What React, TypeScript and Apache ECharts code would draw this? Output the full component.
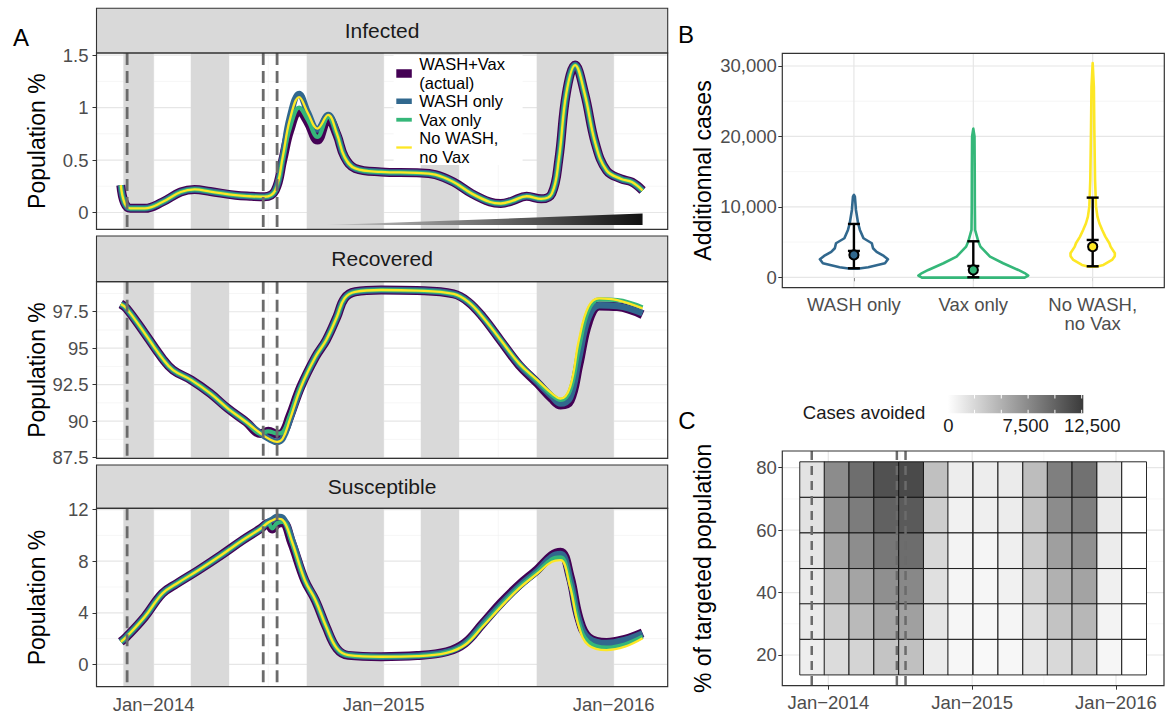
import React, { useEffect, useRef } from 'react';
import * as echarts from 'echarts';

const D = (s: string): number => Date.UTC(+s.slice(0, 4), +s.slice(5, 7) - 1, +s.slice(8, 10));
const DAY = 86400000;

const FONT = "'Liberation Sans', Arial, Helvetica, sans-serif";
const TICK_FONT = 18.5;
const TICK_COLOR = '#4d4d4d';

// ---------- scenarios ----------
const SCEN_NAMES = ['WASH+Vax\n(actual)', 'WASH only', 'Vax only', 'No WASH,\nno Vax'];
const SCEN_COLORS = ['#440154', '#31688E', '#35B779', '#FDE725'];
const SCEN_WIDTHS = [9, 6.5, 4.2, 2.3];

// ---------- time ticks / annotations ----------
const YEAR_TICKS = ['2014-01-01', '2015-01-01', '2016-01-01'];
const YEAR_LABELS = ['Jan\u22122014', 'Jan\u22122015', 'Jan\u22122016'];
const HALF_YEAR_TICKS = ['2014-07-02', '2015-07-02'];
const RAINY_STARTS = ['2013-11-14', '2014-03-01', '2014-09-01', '2015-03-01', '2015-09-01'];
const RAINY_ENDS = ['2014-01-01', '2014-05-01', '2015-01-01', '2015-05-01', '2016-01-01'];
const CAMPAIGN_DATES = ['2013-11-20', '2014-06-24', '2014-07-16'];
const WEDGE_DATES = ['2014-10-01', '2016-02-16', '2016-02-16'];
const WEDGE_VALUES = [-0.12, -0.12, -0.01];

// ---------- Panel A : Infected ----------
const INF_DATES = ['2013-11-10','2013-11-16','2013-11-25','2013-12-18','2014-01-15','2014-02-13','2014-03-07','2014-04-01','2014-05-11','2014-06-03','2014-06-26','2014-07-13','2014-07-25','2014-08-05','2014-08-20','2014-09-03','2014-09-18','2014-10-05','2014-10-19','2014-10-31','2014-11-17','2014-12-28','2015-02-23','2015-03-24','2015-04-22','2015-05-21','2015-06-19','2015-07-06','2015-07-24','2015-08-16','2015-09-08','2015-09-25','2015-10-06','2015-10-18','2015-11-01','2015-11-16','2015-12-03','2015-12-21','2016-01-13','2016-01-30','2016-02-16'];
const INF_NONE = [0.26,0.09,0.04,0.04,0.10,0.195,0.22,0.20,0.165,0.155,0.15,0.21,0.53,0.88,1.10,0.945,0.80,0.93,0.75,0.53,0.42,0.387,0.378,0.36,0.29,0.18,0.10,0.086,0.11,0.155,0.13,0.18,0.50,1.135,1.405,1.135,0.66,0.40,0.32,0.29,0.21];
const INF_ACTUAL = [0.26,0.09,0.04,0.04,0.10,0.195,0.22,0.20,0.165,0.155,0.15,0.21,0.50,0.78,0.97,0.86,0.69,0.90,0.74,0.53,0.42,0.387,0.378,0.36,0.29,0.18,0.10,0.086,0.11,0.155,0.13,0.18,0.50,1.135,1.405,1.135,0.66,0.40,0.32,0.29,0.21];
const INF_WASH = [0.26,0.09,0.04,0.04,0.10,0.195,0.22,0.20,0.165,0.155,0.15,0.21,0.53,0.90,1.13,0.95,0.79,0.93,0.75,0.53,0.42,0.387,0.378,0.36,0.29,0.18,0.10,0.086,0.11,0.155,0.13,0.18,0.50,1.135,1.405,1.135,0.66,0.40,0.32,0.29,0.21];
const INF_VAX = [0.26,0.09,0.04,0.04,0.10,0.195,0.22,0.20,0.165,0.155,0.15,0.21,0.51,0.80,1.00,0.88,0.72,0.91,0.745,0.53,0.42,0.387,0.378,0.36,0.29,0.18,0.10,0.086,0.11,0.155,0.13,0.18,0.50,1.135,1.405,1.135,0.66,0.40,0.32,0.29,0.21];
const INF_TICKS = [0, 0.5, 1, 1.5];
const INF_LABELS = ['0', '0.5', '1', '1.5'];
const INF_MINOR = [0.25, 0.75, 1.25];

// ---------- Panel A : Recovered ----------
const REC_DATES = ['2013-11-10','2013-11-19','2013-12-18','2014-01-15','2014-02-01','2014-03-02','2014-04-01','2014-04-29','2014-05-28','2014-06-20','2014-07-02','2014-07-16','2014-07-25','2014-08-05','2014-08-23','2014-09-15','2014-10-02','2014-10-19','2014-10-31','2014-11-17','2014-12-28','2015-02-23','2015-04-22','2015-05-15','2015-06-07','2015-07-06','2015-08-04','2015-09-02','2015-09-25','2015-10-09','2015-10-24','2015-11-07','2015-11-22','2015-12-09','2016-01-07','2016-02-16'];
const REC_NONE = [98.03,97.73,96.02,94.30,93.5,92.81,91.9,90.86,89.94,89.15,88.81,88.57,88.81,90.06,92.35,94.41,95.56,97.16,98.42,98.87,98.99,98.95,98.72,98.19,97.16,95.56,93.96,92.81,91.9,91.55,92.35,95.56,97.84,98.42,98.3,97.73];
const REC_ACTUAL = [98.03,97.73,96.02,94.30,93.5,92.81,91.9,90.86,89.94,89.15,89.3,89.1,89.2,90.3,92.4,94.41,95.56,97.16,98.42,98.87,98.99,98.95,98.72,98.19,97.16,95.5,93.85,92.6,91.55,91.1,91.4,93.9,96.8,97.9,97.85,97.3];
const REC_WASH = [98.03,97.73,96.02,94.30,93.5,92.81,91.9,90.86,89.94,89.15,88.81,88.57,88.81,90.06,92.35,94.41,95.56,97.16,98.42,98.87,98.99,98.95,98.72,98.19,97.16,95.52,93.9,92.68,91.7,91.2,91.6,94.3,97.1,97.95,97.9,97.4];
const REC_VAX = [98.03,97.73,96.02,94.30,93.5,92.81,91.9,90.86,89.94,89.15,89.3,89.15,89.25,90.35,92.4,94.41,95.56,97.16,98.42,98.87,98.99,98.95,98.72,98.19,97.16,95.56,93.95,92.75,91.8,91.45,92.1,95.0,97.6,98.35,98.3,97.8];
const REC_TICKS = [87.5, 90, 92.5, 95, 97.5];
const REC_LABELS = ['87.5', '90', '92.5', '95', '97.5'];
const REC_MINOR = [88.75, 91.25, 93.75, 96.25, 98.75];

// ---------- Panel A : Susceptible ----------
const SUS_DATES = ['2013-11-10','2013-11-19','2013-12-18','2014-01-15','2014-02-07','2014-03-13','2014-04-18','2014-05-22','2014-06-20','2014-07-02','2014-07-08','2014-07-16','2014-07-25','2014-08-08','2014-08-29','2014-09-15','2014-10-02','2014-10-19','2014-11-06','2014-12-28','2015-02-23','2015-04-11','2015-05-10','2015-06-07','2015-07-06','2015-08-04','2015-09-02','2015-09-25','2015-10-09','2015-10-24','2015-11-07','2015-11-22','2015-12-21','2016-01-19','2016-02-16'];
const SUS_NONE = [1.75,2.14,3.69,5.5,6.27,7.30,8.46,9.62,10.53,11.0,11.15,11.3,11.2,9.62,6.53,4.98,2.92,1.24,0.72,0.59,0.64,0.9,1.5,2.92,4.46,5.89,7.05,7.95,8.08,6.01,2.92,1.5,1.11,1.37,2.02];
const SUS_ACTUAL = [1.75,2.14,3.69,5.5,6.27,7.30,8.46,9.62,10.53,10.95,10.5,10.9,11.0,9.45,6.5,4.95,2.9,1.22,0.7,0.6,0.68,0.98,1.65,3.15,4.75,6.15,7.35,8.45,8.7,6.8,3.6,2.1,1.7,1.95,2.45];
const SUS_WASH = [1.75,2.14,3.69,5.5,6.27,7.30,8.46,9.62,10.53,11.05,11.2,11.45,11.35,9.75,6.55,4.98,2.92,1.24,0.72,0.6,0.67,0.96,1.62,3.1,4.65,6.05,7.25,8.35,8.55,6.6,3.45,2.05,1.65,1.9,2.4];
const SUS_VAX = [1.75,2.14,3.69,5.5,6.27,7.30,8.46,9.62,10.53,10.95,10.55,10.95,11.05,9.5,6.5,4.95,2.9,1.22,0.7,0.59,0.65,0.93,1.55,3.0,4.55,5.98,7.15,8.15,8.3,6.3,3.2,1.75,1.3,1.55,2.15];
const SUS_TICKS = [0, 4, 8, 12];
const SUS_LABELS = ['0', '4', '8', '12'];
const SUS_MINOR = [2, 6, 10];

// ---------- Panel B : violins ([value, half width in category units]) ----------
const B_CATS = ['WASH only', 'Vax only', 'No WASH,\nno Vax'];
const B_COLORS = ['#31688E', '#35B779', '#FDE725'];
const VIOLIN_WASH = [[1200,0.03],[1420,0.12],[1990,0.26],[2560,0.285],[3030,0.25],[3600,0.19],[4120,0.16],[4830,0.15],[5540,0.08],[6720,0.05],[7670,0.035],[9560,0.017],[11450,0.008],[11700,0]];
const VIOLIN_VAX = [[-50,0.43],[250,0.46],[600,0.43],[1040,0.377],[1990,0.25],[2930,0.14],[4350,0.06],[5200,0.04],[6720,0.015],[10000,0.013],[15000,0.012],[20000,0.01],[21100,0]];
const VIOLIN_NONE = [[1500,0.03],[1750,0.09],[2460,0.162],[3000,0.185],[3410,0.186],[4350,0.15],[4830,0.14],[5770,0.106],[6720,0.08],[7670,0.056],[8610,0.04],[10030,0.028],[13820,0.02],[20920,0.014],[27000,0.01],[30400,0]];
const ERR_LOW = [1280, 0, 1560];
const ERR_HIGH = [7570, 5110, 11310];
const ERR_INNER = [3740, 1600, 5300];
const ERR_MEAN = [3170, 1040, 4350];
const CASE_TICKS = [0, 10000, 20000, 30000];
const CASE_LABELS = ['0', '10,000', '20,000', '30,000'];
const CASE_MINOR = [5000, 15000, 25000];

// ---------- Panel C : heatmap ----------
const HEAT_DATES = ['2013-11-21','2014-01-22','2014-03-26','2014-05-28','2014-07-30','2014-10-01','2014-12-02','2015-02-04','2015-04-08','2015-06-10','2015-08-11','2015-10-13','2015-12-15','2016-02-16'];
const HEAT_ROWS = [76.2, 64.8, 53.4, 42.0, 30.7, 19.3];
const HEAT_R76 = [1800,7380,9310,11170,11620,4040,1160,1160,1280,4240,8220,9120,1670,0];
const HEAT_R65 = [1860,7000,8410,10140,10590,3210,900,1030,1220,3920,7380,8280,1350,0];
const HEAT_R53 = [1670,5780,7320,8730,9370,2500,770,640,1030,3340,6160,7130,1220,0];
const HEAT_R42 = [1410,4430,5840,7190,7640,1990,640,580,900,2820,5010,5910,960,0];
const HEAT_R31 = [1350,3210,4430,5780,6100,1600,580,510,640,2120,3850,4620,770,0];
const HEAT_R19 = [1090,2250,2760,3790,4040,1220,510,390,510,1480,2440,3020,580,0];
const POP_TICKS = [20, 40, 60, 80];
const POP_LABELS = ['20', '40', '60', '80'];
const POP_MINOR = [30, 50, 70];
const VMAX = 12650;
const CB_LABELS = ['0', '7,500', '12,500'];

// ---------- layout ----------
const A_GRIDS = [
  { left: 96.5, top: 53, width: 571.2, height: 176.3 },
  { left: 96.5, top: 281.7, width: 571.2, height: 176.6 },
  { left: 96.5, top: 508.3, width: 571.2, height: 178.4 },
];
const B_GRID = { left: 782.3, top: 53.3, width: 382, height: 234.4 };
const C_GRID = { left: 782.3, top: 451, width: 381.7, height: 234.7 };
const J14 = D('2014-01-01');
const A_XMIN = J14 - 90.6 * DAY;
const A_XMAX = J14 + 815.9 * DAY;
const C_XMIN = J14 - 116.7 * DAY;
const C_XMAX = J14 + 851.8 * DAY;
const A_YR = [[-0.16, 1.52], [87.45, 99.56], [-1.73, 12.1]];
const TILE_HALF_W = 31.4 * DAY;
const TILE_HALF_H = 5.69;

function labelMap(ticks: number[], labels: string[]) {
  const m: Record<string, string> = {};
  ticks.forEach((t, i) => { m[String(t)] = labels[i]; });
  return (v: number) => m[String(v)] ?? '';
}

function axis(gridIndex: number, min: number, max: number, ticks: number[], labels: string[], show: boolean, margin: number, extra: any = {}) {
  return {
    type: 'value', gridIndex, min, max,
    axisLine: { show: false },
    axisTick: { show, customValues: ticks, length: 4, lineStyle: { color: '#333', width: 1 } },
    axisLabel: { show, customValues: ticks, formatter: labelMap(ticks, labels), color: TICK_COLOR, fontSize: TICK_FONT, fontFamily: FONT, margin, ...extra },
    splitLine: { show: false },
    minorTick: { show: false },
    minorSplitLine: { show: false },
  };
}

function gridLineSeries(idx: number, vMajor: number[], vMinor: number[], hMajor: number[], hMinor: number[]) {
  const data = [
    ...vMinor.map(v => [0, v, 1]), ...hMinor.map(v => [1, v, 1]),
    ...vMajor.map(v => [0, v, 0]), ...hMajor.map(v => [1, v, 0]),
  ];
  return {
    type: 'custom', xAxisIndex: idx, yAxisIndex: idx, z: 1, silent: true, data,
    renderItem: (params: any, api: any) => {
      const cs = params.coordSys;
      const o = api.value(0), v = api.value(1), minor = api.value(2);
      const style = { stroke: minor ? '#f2f2f2' : '#e6e6e6', lineWidth: minor ? 0.7 : 1.2 };
      if (o === 0) {
        const x = api.coord([v, 0])[0];
        return { type: 'line', shape: { x1: x, y1: cs.y, x2: x, y2: cs.y + cs.height }, style };
      }
      const y = api.coord([0, v])[1];
      return { type: 'line', shape: { x1: cs.x, y1: y, x2: cs.x + cs.width, y2: y }, style };
    },
  };
}

function bandSeries(idx: number) {
  return {
    type: 'custom', xAxisIndex: idx, yAxisIndex: idx, z: 2, silent: true,
    data: RAINY_STARTS.map((s, i) => [D(s), D(RAINY_ENDS[i])]),
    renderItem: (params: any, api: any) => {
      const cs = params.coordSys;
      const x1 = api.coord([api.value(0), 0])[0];
      const x2 = api.coord([api.value(1), 0])[0];
      return { type: 'rect', shape: { x: x1, y: cs.y, width: x2 - x1, height: cs.height }, style: { fill: '#d9d9d9' } };
    },
  };
}

function dashSeries(idx: number, width: number, dash: number[]) {
  return {
    type: 'custom', xAxisIndex: idx, yAxisIndex: idx, z: 8, silent: true,
    data: CAMPAIGN_DATES.map(d => [D(d), 0]),
    renderItem: (params: any, api: any) => {
      const cs = params.coordSys;
      const x = api.coord([api.value(0), 0])[0];
      return { type: 'line', shape: { x1: x, y1: cs.y, x2: x, y2: cs.y + cs.height }, style: { stroke: '#6b6b6b', lineWidth: width, lineDash: dash } };
    },
  };
}

function buildOption() {
  const series: any[] = [];
  const panels = [
    { dates: INF_DATES, vals: [INF_ACTUAL, INF_WASH, INF_VAX, INF_NONE], ticks: INF_TICKS, minor: INF_MINOR },
    { dates: REC_DATES, vals: [REC_ACTUAL, REC_WASH, REC_VAX, REC_NONE], ticks: REC_TICKS, minor: REC_MINOR },
    { dates: SUS_DATES, vals: [SUS_ACTUAL, SUS_WASH, SUS_VAX, SUS_NONE], ticks: SUS_TICKS, minor: SUS_MINOR },
  ];
  const yearTs = YEAR_TICKS.map(D);
  const halfTs = HALF_YEAR_TICKS.map(D);

  panels.forEach((p, i) => {
    series.push(gridLineSeries(i, yearTs, halfTs, p.ticks, p.minor));
    series.push(bandSeries(i));
    if (i === 0) {
      series.push({
        type: 'custom', xAxisIndex: 0, yAxisIndex: 0, z: 2.5, silent: true, data: [[D(WEDGE_DATES[0]), WEDGE_VALUES[0]]],
        renderItem: (params: any, api: any) => {
          const pts = WEDGE_DATES.map((d, k) => api.coord([D(d), WEDGE_VALUES[k]]));
          return {
            type: 'polygon', shape: { points: pts },
            style: {
              fill: { type: 'linear', x: 0, y: 0, x2: 1, y2: 0, colorStops: [
                { offset: 0, color: '#c8c8c8' }, { offset: 0.45, color: '#7a7a7a' }, { offset: 1, color: '#121212' },
              ] },
            },
          };
        },
      });
    }
    p.vals.forEach((vals, k) => {
      series.push({
        type: 'line', name: SCEN_NAMES[k], xAxisIndex: i, yAxisIndex: i, z: 3 + k, silent: true,
        data: p.dates.map((d, j) => [D(d), vals[j]]),
        showSymbol: false, symbol: 'none', smooth: 0.4, clip: true,
        lineStyle: { color: SCEN_COLORS[k], width: SCEN_WIDTHS[k], join: 'round' },
      });
    });
    series.push(dashSeries(i, 2.8, [12, 6]));
  });

  // Panel B
  series.push(gridLineSeries(3, [1, 2, 3], [], CASE_TICKS, CASE_MINOR));
  const violins = [VIOLIN_WASH, VIOLIN_VAX, VIOLIN_NONE];
  series.push({
    type: 'custom', xAxisIndex: 3, yAxisIndex: 3, z: 3, silent: true,
    data: ERR_MEAN.map((m, i) => [i + 1, m]),
    renderItem: (params: any, api: any) => {
      const i = params.dataIndex;
      const cat = i + 1;
      const prof = violins[i];
      const right = prof.map(([v, hw]) => api.coord([cat + hw, v]));
      const left = prof.slice().reverse().map(([v, hw]) => api.coord([cat - hw, v]));
      return {
        type: 'polygon', shape: { points: right.concat(left) },
        style: { fill: 'none', stroke: B_COLORS[i], lineWidth: 2.6, lineJoin: 'round' },
      };
    },
  });
  series.push({
    type: 'custom', xAxisIndex: 3, yAxisIndex: 3, z: 4, silent: true,
    data: ERR_MEAN.map((m, i) => [i + 1, m]),
    renderItem: (params: any, api: any) => {
      const i = params.dataIndex;
      const cat = i + 1;
      const [x, yLo] = api.coord([cat, ERR_LOW[i]]);
      const yHi = api.coord([cat, ERR_HIGH[i]])[1];
      const yIn = api.coord([cat, ERR_INNER[i]])[1];
      const yM = api.coord([cat, ERR_MEAN[i]])[1];
      const st = { stroke: '#000', lineWidth: 2.4 };
      const cap = 6;
      return {
        type: 'group', children: [
          { type: 'line', shape: { x1: x, y1: yLo, x2: x, y2: yHi }, style: st },
          { type: 'line', shape: { x1: x - cap, y1: yLo, x2: x + cap, y2: yLo }, style: st },
          { type: 'line', shape: { x1: x - cap, y1: yHi, x2: x + cap, y2: yHi }, style: st },
          { type: 'line', shape: { x1: x - cap, y1: yIn, x2: x + cap, y2: yIn }, style: st },
          { type: 'circle', shape: { cx: x, cy: yM, r: 4.6 }, style: { fill: B_COLORS[i], stroke: '#000', lineWidth: 2 } },
        ],
      };
    },
  });

  // Panel C
  series.push(gridLineSeries(4, yearTs, halfTs, POP_TICKS, POP_MINOR));
  const heatRows = [HEAT_R76, HEAT_R65, HEAT_R53, HEAT_R42, HEAT_R31, HEAT_R19];
  const tileData: number[][] = [];
  heatRows.forEach((row, r) => row.forEach((v, c) => tileData.push([D(HEAT_DATES[c]), HEAT_ROWS[r], v])));
  const tileIdx = series.length;
  series.push({
    type: 'custom', xAxisIndex: 4, yAxisIndex: 4, z: 3, silent: true, data: tileData,
    encode: { x: 0, y: 1 },
    renderItem: (params: any, api: any) => {
      const c = api.value(0), y = api.value(1);
      const p1 = api.coord([c - TILE_HALF_W, y + TILE_HALF_H]);
      const p2 = api.coord([c + TILE_HALF_W, y - TILE_HALF_H]);
      return {
        type: 'rect', shape: { x: p1[0], y: p1[1], width: p2[0] - p1[0], height: p2[1] - p1[1] },
        style: { fill: api.visual('color'), stroke: '#111', lineWidth: 0.9 },
      };
    },
  });
  series.push(dashSeries(4, 2.5, [9, 6]));

  // ---------- graphic ----------
  const g: any[] = [];
  const txt = (text: string, x: number, y: number, size: number, o: any = {}) => ({
    type: 'text', x, y, z: 110, silent: true, rotation: o.rot || 0,
    style: {
      text, fontSize: size, fontFamily: FONT, fill: o.color || '#000',
      align: o.align || 'center', textAlign: o.align || 'center',
      verticalAlign: 'middle', textVerticalAlign: 'middle',
      lineHeight: o.lh || Math.round(size * 1.15),
    },
  });
  // strips
  const strips = [['Infected', 8.3, 53], ['Recovered', 236, 281.7], ['Susceptible', 465, 508.3]] as const;
  strips.forEach(([label, y0, y1]) => {
    g.push({ type: 'rect', z: 100, silent: true, shape: { x: 96.5, y: y0, width: 571.2, height: y1 - y0 }, style: { fill: '#d9d9d9', stroke: '#333', lineWidth: 1.1 } });
    g.push(txt(label, 96.5 + 571.2 / 2, (y0 + y1) / 2, 21, { color: '#1a1a1a' }));
  });
  // panel borders
  [...A_GRIDS, B_GRID, C_GRID].forEach(gr => {
    g.push({ type: 'rect', z: 105, silent: true, shape: { x: gr.left, y: gr.top, width: gr.width, height: gr.height }, style: { fill: 'none', stroke: '#333', lineWidth: 1.2 } });
  });
  // panel letters
  g.push(txt('A', 21, 37, 24));
  g.push(txt('B', 686, 34, 24));
  g.push(txt('C', 687, 420, 24));
  // axis titles
  A_GRIDS.forEach(gr => g.push(txt('Population %', 37, gr.top + gr.height / 2, 23, { rot: Math.PI / 2 })));
  g.push(txt('Additionnal cases', 703, B_GRID.top + B_GRID.height / 2, 23, { rot: Math.PI / 2 }));
  g.push(txt('% of targeted population', 703, C_GRID.top + C_GRID.height / 2, 23, { rot: Math.PI / 2 }));
  // legend (panel A)
  g.push({ type: 'rect', z: 100, silent: true, shape: { x: 393.6, y: 55, width: 129, height: 110 }, style: { fill: '#fff' } });
  const legY = [73.5, 101.25, 119.75, 147.5];
  const legKeyH = [8.5, 5.5, 3.8, 2.3];
  SCEN_NAMES.forEach((name, k) => {
    g.push({ type: 'rect', z: 101, silent: true, shape: { x: 396.3, y: legY[k] - legKeyH[k] / 2, width: 15.5, height: legKeyH[k] }, style: { fill: SCEN_COLORS[k] } });
    g.push(txt(name, 419.3, legY[k], 16.5, { align: 'left', lh: 18.5, color: '#000' }));
  });
  // colour bar (panel C)
  const cb = { x: 947.7, y: 395, w: 135.6, h: 18.3 };
  g.push(txt('Cases avoided', 864, 412.3, 18.5, { color: '#1a1a1a' }));
  g.push({
    type: 'rect', z: 100, silent: true, shape: { x: cb.x, y: cb.y, width: cb.w, height: cb.h },
    style: { fill: { type: 'linear', x: 0, y: 0, x2: 1, y2: 0, colorStops: [{ offset: 0, color: '#ffffff' }, { offset: 1, color: '#3a3a3a' }] } },
  });
  [2500, 5000, 7500, 10000, 12500].forEach(v => {
    const x = cb.x + (v / VMAX) * cb.w;
    g.push({ type: 'line', z: 101, silent: true, shape: { x1: x, y1: cb.y, x2: x, y2: cb.y + 3.5 }, style: { stroke: '#fff', lineWidth: 1 } });
    g.push({ type: 'line', z: 101, silent: true, shape: { x1: x, y1: cb.y + cb.h - 3.5, x2: x, y2: cb.y + cb.h }, style: { stroke: '#fff', lineWidth: 1 } });
  });
  const cbLabelX = [948.3, 1025.7, 1092.3];
  CB_LABELS.forEach((l, i) => g.push(txt(l, cbLabelX[i], 425.5, 18.5, { color: '#1a1a1a' })));

  const grids = [...A_GRIDS, B_GRID, C_GRID].map(gr => ({
    ...gr, show: true, backgroundColor: '#fff', borderWidth: 0, containLabel: false, outerBoundsMode: 'none',
  }));

  const xAxis = [
    axis(0, A_XMIN, A_XMAX, yearTs, YEAR_LABELS, false, 9),
    axis(1, A_XMIN, A_XMAX, yearTs, YEAR_LABELS, false, 9),
    axis(2, A_XMIN, A_XMAX, yearTs, YEAR_LABELS, true, 9.3, { lineHeight: 16 }),
    axis(3, 0.4, 3.6, [1, 2, 3], B_CATS, true, 7, { lineHeight: 19 }),
    axis(4, C_XMIN, C_XMAX, yearTs, YEAR_LABELS, true, 8.6, { lineHeight: 16 }),
  ];
  const yAxis = [
    axis(0, A_YR[0][0], A_YR[0][1], INF_TICKS, INF_LABELS, true, 8),
    axis(1, A_YR[1][0], A_YR[1][1], REC_TICKS, REC_LABELS, true, 8),
    axis(2, A_YR[2][0], A_YR[2][1], SUS_TICKS, SUS_LABELS, true, 8),
    axis(3, -1480, 31800, CASE_TICKS, CASE_LABELS, true, 5.5),
    axis(4, 10.16, 85.35, POP_TICKS, POP_LABELS, true, 5.5),
  ];

  return {
    animation: false,
    backgroundColor: '#fff',
    textStyle: { fontFamily: FONT },
    grid: grids,
    xAxis,
    yAxis,
    visualMap: [{
      type: 'continuous', show: false, seriesIndex: tileIdx, dimension: 2, min: 0, max: VMAX,
      inRange: { color: ['#ffffff', '#3a3a3a'] },
    }],
    series,
    graphic: { elements: g },
  };
}

export default function App() {
  const ref = useRef<HTMLDivElement>(null);
  useEffect(() => {
    const chart = echarts.init(ref.current as HTMLDivElement, null, { renderer: 'svg' });
    chart.setOption(buildOption() as any);
    return () => chart.dispose();
  }, []);
  return <div ref={ref} style={{ position: 'absolute', left: 0, top: 0, width: 1171, height: 713, background: '#fff' }} />;
}
